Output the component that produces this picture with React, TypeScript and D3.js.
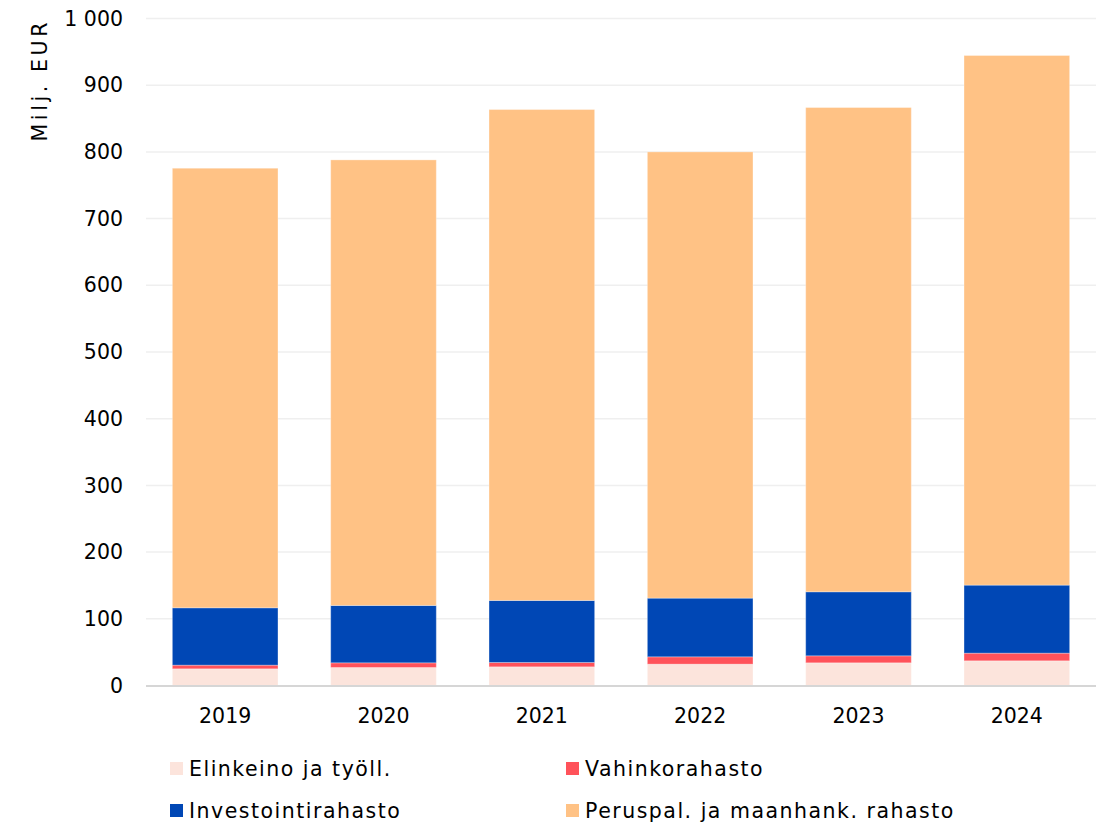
import React from "react";
import * as d3 from "d3";

const years = ["2019", "2020", "2021", "2022", "2023", "2024"];
const seriesNames = ["Elinkeino ja työll.", "Vahinkorahasto", "Investointirahasto", "Peruspal. ja maanhank. rahasto"];
const elinkeino = [25, 27, 28, 32, 34, 37];
const vahinko = [5.5, 7, 6.5, 11, 10.5, 11.5];
const investointi = [86, 86, 93, 88, 96, 102];
const peruspal = [659, 668, 736, 669, 726, 794];
const colors = ["#fce4dc", "#ff525a", "#0047b5", "#ffc285"];
const yTicks = [0, 100, 200, 300, 400, 500, 600, 700, 800, 900, 1000];

const W = 1097, H = 823;
const font = "'DejaVu Sans', sans-serif";
const fs = 20.5;

export default function App() {
  const x = d3.scaleBand().domain(years).range([146, 1096]).paddingInner(0.333).paddingOuter(0.1665);
  const y = d3.scaleLinear().domain([0, 1000]).range([685.5, 18.5]);
  const rows = years.map((yr, i) => ({ year: yr, s0: elinkeino[i], s1: vahinko[i], s2: investointi[i], s3: peruspal[i] }));
  const stack = d3.stack<any>().keys(["s0", "s1", "s2", "s3"])(rows);
  const fmt = (v: number) => (v >= 1000 ? d3.format(",")(v).replace(",", " ") : String(v));

  const legend = [
    { x: 170, y: 762 },
    { x: 566, y: 762 },
    { x: 170, y: 804 },
    { x: 566, y: 804 },
  ];

  return (
    <svg width={W} height={H} style={{ position: "absolute", left: 0, top: 0 }} fontFamily={font}>
      <rect width={W} height={H} fill="#fff" />
      {yTicks.map((t) =>
        t === 0 ? null : (
          <line key={t} x1={146} x2={1096} y1={y(t)} y2={y(t)} stroke="#efefef" strokeWidth={1.5} />
        )
      )}
      {yTicks.map((t) => (
        <text key={"l" + t} x={123} y={y(t)} dy="0.35em" textAnchor="end" fontSize={fs} fill="#000">
          {fmt(t)}
        </text>
      ))}
      <text transform="translate(47,19) rotate(-90)" textAnchor="end" fontSize={fs} letterSpacing={3.6} fill="#000">
        Milj. EUR
      </text>
      {stack.map((layer, si) =>
        layer.map((d: any, i: number) => (
          <rect
            key={si + "-" + i}
            x={x(d.data.year)}
            width={x.bandwidth()}
            y={y(d[1])}
            height={y(d[0]) - y(d[1])}
            fill={colors[si]}
            stroke="rgba(255,255,255,0.3)"
            strokeWidth={1}
          />
        ))
      )}
      <line x1={146} x2={1096} y1={686} y2={686} stroke="#d6d6d6" strokeWidth={2} />
      {years.map((yr) => (
        <text key={yr} x={(x(yr) as number) + x.bandwidth() / 2} y={716} dy="0.35em" textAnchor="middle" fontSize={fs} fill="#000">
          {yr}
        </text>
      ))}
      {seriesNames.map((n, i) => (
        <g key={n}>
          <rect x={legend[i].x} y={legend[i].y} width={13} height={13} fill={colors[i]} />
          <text x={legend[i].x + 19} y={legend[i].y + 6.5} dy="0.35em" fontSize={fs} letterSpacing={1.5} fill="#000">
            {n}
          </text>
        </g>
      ))}
    </svg>
  );
}
